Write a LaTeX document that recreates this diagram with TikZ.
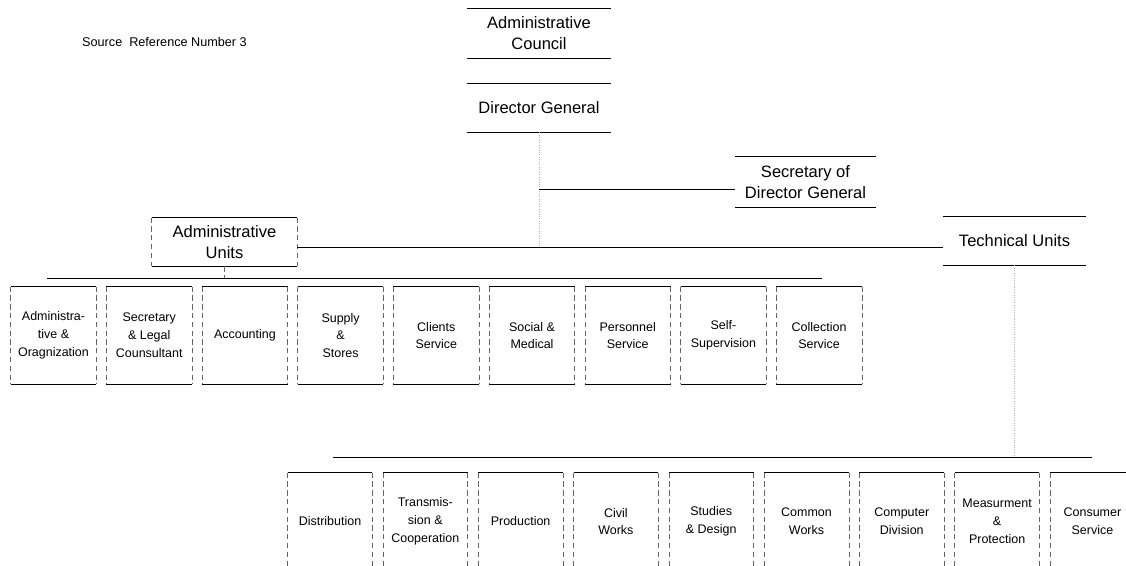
\documentclass[tikz,border=0pt]{standalone}
\usepackage{fontspec}
\setmainfont{Liberation Sans}
\tikzset{
  rule/.style={line width=0.5pt},
  side/.style={densely dashed, line width=0.4pt, black!60},
  faint/.style={densely dotted, line width=0.4pt, black!30},
  openbox/.style={align=center, inner sep=0pt, font=\fontsize{9.4}{12}\selectfont,
    append after command={(\tikzlastnode.north west) edge[rule] (\tikzlastnode.north east)
      (\tikzlastnode.south west) edge[rule] (\tikzlastnode.south east)}},
  unitbox/.style={openbox, font=\fontsize{7.1}{10.2}\selectfont,
    minimum width=1.7cm, minimum height=1.94cm,
    append after command={(\tikzlastnode.north west) edge[side] (\tikzlastnode.south west)
      (\tikzlastnode.north east) edge[side] (\tikzlastnode.south east)}}
}
\begin{document}
\begin{tikzpicture}[x=0.02cm, y=-0.02cm]
    \useasboundingbox (0,0) rectangle (1126,565);
    \clip (0,0) rectangle (1126,565);

    \node[anchor=west, font=\fontsize{7.2}{8}\selectfont] (src) at (76,42) {Source\ \ Reference Number 3};

    % top of the chart
    \node[openbox, minimum width=2.88cm, minimum height=0.98cm] (council) at (539,33.5) {Administrative\\Council};
    \node[openbox, minimum width=2.88cm, minimum height=0.96cm] (dg) at (539,108) {Director General};
    \node[openbox, minimum width=2.82cm, minimum height=1.0cm] (sec) at (805.5,182) {Secretary of\\Director General};
    \node[unitbox, font=\fontsize{9.4}{12}\selectfont, minimum width=2.9cm, minimum height=0.96cm] (au) at (224.5,242) {Administrative\\Units};
    \node[openbox, minimum width=2.86cm, minimum height=0.96cm] (tu) at (1014.5,241) {Technical Units};

    \coordinate (main) at (541,247);
    \coordinate (busA-l) at (47,278); \coordinate (busA-r) at (822,278);
    \coordinate (busT-l) at (333,457); \coordinate (busT-r) at (1092,457);

    \draw[faint] (dg.south) -- (dg.south |- main);
    \draw[rule] ([yshift=-0.14cm]dg.south |- sec.west) -- ([yshift=-0.14cm]sec.west);
    \draw[rule] (au.east |- main) -- (tu.west |- main);
    \draw[side] (au.south) -- (au.south |- busA-l);
    \draw[rule] (busA-l) -- (busA-r);
    \draw[faint] (tu.south) -- (tu.south |- busT-l);
    \draw[rule] (busT-l) -- (busT-r);

    % administrative units
    \foreach \name/\label [count=\i from 0] in {adm/{Administra-\\tive \&\\Oragnization}, legal/{Secretary\\\& Legal\\Counsultant},
        acc/{Accounting}, supply/{Supply\\\&\\Stores}, clients/{Clients\\Service}, social/{Social \&\\Medical},
        pers/{Personnel\\Service}, self/{Self-\\Supervision}, coll/{Collection\\Service}}
        \node[unitbox] (\name) at (53.5+95.7*\i,335.5) {\label};

    % technical units
    \foreach \name/\label [count=\i from 0] in {dist/{Distribution}, trans/{Transmis-\\sion \&\\Cooperation},
        prod/{Production}, civil/{Civil\\Works}, studies/{Studies\\\& Design}, common/{Common\\Works},
        comp/{Computer\\Division}, meas/{Measurment\\\&\\Protection}, cons/{Consumer\\Service}}
        \node[unitbox, minimum width=1.68cm] (\name) at (330+95.3*\i,521.5) {\label};
\end{tikzpicture}
\end{document}
